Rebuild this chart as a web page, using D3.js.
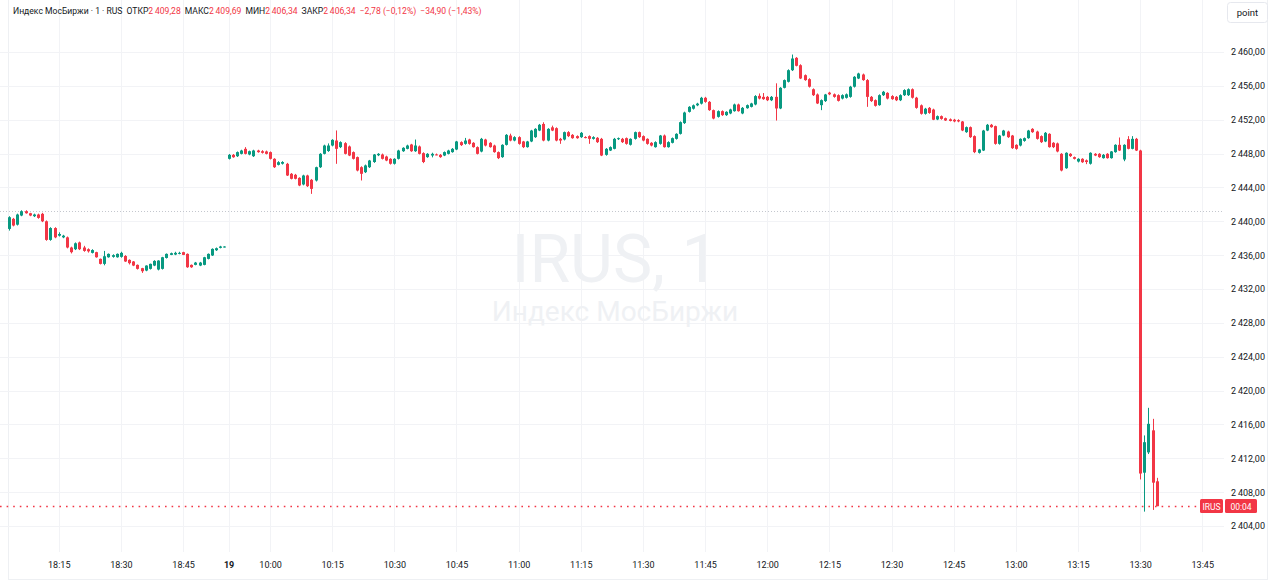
<!DOCTYPE html>
<html><head><meta charset="utf-8">
<script src="https://cdnjs.cloudflare.com/ajax/libs/d3/7.8.5/d3.min.js"></script>
<style>
html,body{margin:0;padding:0;background:#fff;}
svg{display:block;font-family:Roboto,"Noto Sans",sans-serif;}
</style></head><body>
<svg id="chart" width="1280" height="584"></svg>
<script>
// ---------- DATA ----------
const symbolName = "Индекс МосБиржи";
const ticker = "IRUS";
const interval = "1";
const exchange = "RUS";
const countdown = "00:04";
const prevDayClose = 2441.24;
const prevSessionStart = "18:03";
const todaySessionStart = "09:50";
const dayLabel = "19";

// previous day 1-minute bars [open, high, low, close]
const prevDayBars = [
[2439.10,2440.60,2438.90,2440.48],[2440.29,2440.40,2439.40,2439.50],[2439.60,2440.90,2439.50,2440.80],
[2440.68,2441.30,2440.60,2441.19],[2441.19,2441.30,2440.90,2440.95],[2440.95,2441.00,2440.60,2440.68],
[2440.60,2440.90,2440.50,2440.80],[2440.80,2440.90,2440.30,2440.40],[2440.88,2441.00,2439.90,2440.00],
[2440.00,2440.10,2437.70,2437.80],[2437.80,2439.30,2437.70,2439.20],[2439.20,2439.30,2438.00,2438.10],
[2438.30,2438.70,2438.20,2438.50],[2438.10,2438.40,2438.00,2438.30],[2438.10,2438.20,2436.80,2436.90],
[2436.90,2437.00,2436.20,2436.35],[2436.70,2437.50,2436.60,2437.40],[2437.50,2437.60,2436.60,2436.70],
[2436.90,2437.10,2436.40,2436.50],[2436.70,2436.80,2436.30,2436.45],[2436.27,2436.70,2436.20,2436.60],
[2436.35,2436.40,2435.70,2435.75],[2435.56,2435.60,2434.90,2434.97],[2434.97,2436.50,2434.80,2435.87],
[2435.75,2436.20,2435.70,2436.15],[2435.80,2436.10,2435.70,2436.00],[2435.75,2436.20,2435.70,2436.15],
[2435.80,2436.40,2435.70,2436.27],[2435.90,2436.00,2435.20,2435.25],[2435.44,2435.50,2434.90,2435.05],
[2435.25,2435.30,2434.70,2434.77],[2434.85,2434.90,2434.30,2434.38],[2434.46,2434.50,2433.90,2434.10],
[2434.18,2434.80,2434.10,2434.77],[2434.38,2435.00,2434.30,2434.97],[2434.77,2435.40,2434.70,2435.32],
[2434.30,2435.40,2434.20,2435.36],[2434.38,2435.80,2434.30,2435.75],[2435.67,2436.20,2435.60,2436.15],
[2436.03,2436.30,2436.00,2436.23],[2436.07,2436.40,2436.00,2436.27],[2436.15,2436.40,2436.10,2436.27],
[2436.35,2436.40,2436.00,2436.03],[2436.15,2436.20,2434.50,2434.57],[2434.85,2434.90,2434.50,2434.57],
[2434.85,2435.20,2434.80,2435.12],[2434.77,2435.20,2434.70,2435.12],[2434.85,2435.80,2434.80,2435.75],
[2435.56,2436.20,2435.50,2436.15],[2435.96,2436.80,2435.90,2436.74],[2436.58,2436.90,2436.50,2436.82],
[2436.86,2437.10,2436.80,2437.02],[2436.94,2437.05,2436.90,2437.02]
];

// today 1-minute bars [open, high, low, close]
const todayBars = [
[2447.38,2447.95,2447.30,2447.85],[2447.85,2447.95,2447.50,2447.57],[2447.69,2448.25,2447.60,2448.17],
[2447.97,2448.45,2447.90,2448.36],[2448.56,2448.76,2447.90,2447.97],[2447.89,2448.35,2447.80,2448.28],
[2447.69,2448.45,2447.60,2448.36],[2448.36,2448.45,2448.10,2448.17],[2448.28,2448.40,2448.00,2448.09],
[2448.25,2448.35,2447.90,2447.97],[2448.17,2448.25,2447.30,2447.38],[2447.38,2447.45,2446.30,2446.39],
[2446.67,2447.10,2446.60,2446.98],[2446.80,2447.10,2446.70,2447.00],[2446.79,2446.90,2445.35,2445.41],
[2445.61,2445.70,2444.95,2445.02],[2445.49,2445.60,2444.95,2445.02],[2445.13,2445.20,2444.15,2444.23],
[2444.35,2445.50,2444.25,2445.41],[2445.41,2445.50,2444.05,2444.15],[2444.90,2445.00,2443.24,2443.83],
[2444.82,2446.45,2444.70,2446.39],[2446.39,2448.05,2446.30,2447.97],[2447.97,2449.05,2447.90,2448.95],
[2448.30,2449.20,2448.20,2448.95],[2448.95,2449.70,2448.85,2449.62],[2449.54,2450.73,2446.79,2448.56],
[2448.76,2449.45,2448.65,2449.35],[2449.23,2449.35,2447.90,2447.97],[2448.84,2448.95,2447.70,2447.77],
[2448.17,2448.25,2447.30,2447.38],[2447.58,2447.65,2445.90,2446.00],[2446.39,2446.50,2444.82,2445.61],
[2445.80,2446.70,2445.70,2446.60],[2446.39,2447.25,2446.30,2447.18],[2447.00,2447.95,2446.90,2447.89],
[2447.80,2448.05,2447.70,2447.97],[2447.89,2448.00,2447.30,2447.38],[2447.65,2447.75,2447.10,2447.18],
[2447.38,2447.45,2446.70,2446.80],[2446.80,2447.45,2446.70,2447.38],[2447.38,2448.45,2447.30,2448.36],
[2448.28,2448.75,2448.20,2448.68],[2448.56,2449.05,2448.50,2448.95],[2449.07,2449.15,2448.20,2448.28],
[2448.28,2449.66,2448.20,2448.95],[2448.84,2448.95,2447.90,2447.97],[2448.05,2448.15,2446.87,2447.00],
[2447.58,2448.05,2447.50,2447.97],[2447.77,2448.10,2447.55,2447.97],[2447.90,2448.00,2447.80,2447.85],
[2447.85,2447.95,2447.50,2447.58],[2447.77,2448.25,2447.70,2448.17],[2447.97,2448.45,2447.90,2448.36],
[2448.17,2448.65,2448.10,2448.56],[2448.48,2449.50,2448.40,2449.43],[2449.35,2449.45,2448.90,2449.00],
[2449.15,2449.85,2449.05,2449.54],[2449.66,2449.75,2449.05,2449.15],[2449.27,2449.35,2448.70,2448.76],
[2448.76,2448.85,2447.90,2447.97],[2448.24,2449.85,2448.15,2449.74],[2449.66,2449.75,2448.85,2448.95],
[2449.27,2449.35,2448.70,2448.76],[2448.95,2449.05,2448.10,2448.17],[2448.17,2448.25,2447.35,2447.46],
[2447.58,2449.10,2447.50,2449.03],[2449.03,2450.30,2448.95,2450.21],[2450.13,2450.35,2449.45,2449.54],
[2449.54,2450.05,2449.45,2449.94],[2449.94,2450.05,2449.05,2449.15],[2449.43,2449.50,2448.65,2448.76],
[2448.76,2449.50,2448.70,2449.43],[2449.43,2450.80,2449.35,2450.72],[2449.94,2451.00,2449.85,2450.92],
[2450.72,2451.50,2450.65,2451.40],[2451.50,2451.70,2449.45,2449.54],[2449.54,2451.00,2449.45,2450.92],
[2451.10,2451.30,2450.65,2450.72],[2451.00,2451.10,2449.45,2449.54],[2449.74,2449.85,2449.15,2449.54],
[2449.66,2450.60,2449.55,2450.53],[2450.53,2450.65,2449.95,2450.06],[2450.21,2450.30,2449.75,2449.82],
[2450.06,2450.15,2449.75,2449.82],[2449.94,2450.55,2449.85,2450.45],[2449.95,2450.05,2449.80,2449.90],
[2450.06,2450.15,2449.15,2449.74],[2449.74,2450.05,2449.65,2449.94],[2449.86,2449.95,2449.25,2449.35],
[2449.74,2449.85,2447.70,2447.77],[2447.85,2448.65,2447.75,2448.56],[2448.36,2448.85,2448.30,2448.76],
[2448.56,2449.85,2448.50,2449.74],[2449.70,2449.90,2449.60,2449.82],[2449.74,2449.85,2449.25,2449.35],
[2449.82,2449.90,2449.05,2449.15],[2449.04,2449.80,2448.95,2449.74],[2449.74,2450.60,2449.65,2450.53],
[2450.53,2450.60,2449.85,2449.94],[2450.06,2450.15,2449.45,2449.54],[2449.74,2449.80,2449.05,2449.15],
[2449.27,2449.35,2448.85,2448.95],[2448.76,2449.45,2448.70,2449.35],[2449.15,2450.20,2449.05,2450.13],
[2450.13,2450.25,2448.70,2448.76],[2448.76,2449.45,2448.70,2449.35],[2449.27,2449.90,2449.20,2449.82],
[2449.74,2450.40,2449.65,2450.33],[2450.33,2451.80,2450.25,2451.71],[2451.60,2452.95,2451.50,2452.85],
[2452.93,2453.60,2452.85,2453.52],[2453.30,2453.80,2453.20,2453.70],[2453.70,2454.00,2453.60,2453.90],
[2453.90,2454.70,2453.80,2454.59],[2454.59,2454.70,2454.00,2454.11],[2454.11,2454.20,2453.05,2453.13],
[2453.13,2453.20,2452.05,2452.14],[2452.34,2453.10,2452.25,2453.01],[2453.01,2453.10,2452.45,2452.54],
[2452.54,2453.00,2452.45,2452.93],[2452.74,2453.30,2452.65,2453.21],[2453.01,2453.90,2452.95,2453.80],
[2453.80,2453.90,2452.95,2453.01],[2452.74,2453.50,2452.65,2453.40],[2453.36,2453.80,2453.30,2453.72],
[2453.52,2454.00,2453.45,2453.92],[2453.80,2454.90,2453.70,2454.79],[2454.82,2455.10,2454.40,2454.50],
[2454.70,2455.15,2454.35,2454.43],[2454.70,2454.80,2454.20,2454.30],[2454.30,2454.80,2454.20,2454.70],
[2454.70,2456.30,2451.90,2453.33],[2453.33,2455.85,2453.25,2455.77],[2455.77,2456.75,2455.70,2456.68],
[2456.48,2457.95,2456.40,2457.85],[2457.85,2459.70,2457.75,2459.23],[2459.31,2459.40,2458.30,2458.37],
[2458.44,2458.55,2456.80,2456.87],[2457.26,2457.35,2456.60,2456.68],[2456.79,2456.90,2455.80,2455.90],
[2455.60,2455.70,2454.80,2454.90],[2454.98,2455.10,2453.85,2453.92],[2453.72,2454.40,2453.13,2454.31],
[2454.20,2455.05,2454.10,2454.98],[2455.20,2455.30,2454.90,2455.00],[2455.00,2455.10,2454.60,2454.70],
[2454.90,2455.00,2454.15,2454.23],[2454.50,2455.00,2454.40,2454.90],[2454.59,2455.10,2454.50,2455.00],
[2454.70,2456.00,2454.60,2455.90],[2455.90,2457.15,2455.80,2457.07],[2456.87,2457.55,2456.80,2457.46],
[2457.34,2457.45,2456.60,2456.68],[2456.68,2456.80,2453.52,2454.70],[2454.70,2454.80,2454.10,2454.20],
[2454.31,2454.40,2453.55,2453.64],[2453.72,2455.00,2453.65,2454.90],[2454.90,2455.40,2454.80,2455.30],
[2455.17,2455.25,2454.40,2454.50],[2454.79,2454.90,2454.35,2454.43],[2454.70,2454.80,2454.20,2454.30],
[2454.30,2455.00,2454.20,2454.90],[2454.90,2455.60,2454.80,2455.50],[2454.90,2455.70,2454.80,2455.60],
[2455.60,2455.70,2454.50,2454.60],[2454.60,2454.70,2453.30,2453.40],[2453.70,2453.80,2452.60,2452.70],
[2452.70,2453.40,2452.60,2453.30],[2453.40,2453.50,2452.70,2452.80],[2453.20,2453.30,2451.95,2452.00],
[2452.03,2452.50,2451.95,2452.42],[2452.42,2452.50,2452.00,2452.10],[2452.18,2452.25,2451.85,2451.91],
[2452.05,2452.15,2451.80,2451.85],[2452.00,2452.10,2451.70,2451.80],[2451.95,2452.05,2451.70,2451.80],
[2451.79,2451.85,2450.65,2450.73],[2450.53,2451.20,2450.45,2451.12],[2451.12,2451.20,2449.85,2449.94],
[2450.06,2450.15,2448.05,2448.17],[2448.09,2448.55,2448.00,2448.48],[2448.36,2450.80,2448.30,2450.72],
[2450.72,2451.50,2450.65,2451.40],[2451.40,2451.50,2451.05,2451.12],[2451.24,2451.30,2449.05,2449.15],
[2449.15,2450.20,2449.05,2450.13],[2450.13,2450.80,2450.05,2450.72],[2450.60,2450.70,2449.85,2449.94],
[2450.13,2450.20,2448.55,2448.64],[2449.03,2449.10,2448.45,2448.56],[2448.95,2449.80,2448.85,2449.74],
[2449.50,2449.90,2449.40,2449.82],[2449.82,2450.80,2449.75,2450.72],[2450.92,2451.00,2450.45,2450.53],
[2450.60,2450.70,2449.65,2449.74],[2450.06,2450.15,2449.25,2449.35],[2449.43,2450.55,2449.35,2450.45],
[2450.33,2450.40,2448.70,2448.76],[2449.27,2449.35,2448.65,2448.76],[2449.20,2449.30,2448.15,2448.25],
[2447.97,2448.05,2445.90,2446.00],[2446.27,2448.15,2446.20,2448.09],[2447.97,2448.05,2447.60,2447.70],
[2447.58,2447.65,2447.30,2447.38],[2447.06,2447.45,2446.95,2447.38],[2447.38,2447.45,2446.90,2446.98],
[2447.20,2447.30,2446.75,2447.00],[2446.80,2448.15,2446.70,2448.09],[2447.97,2448.05,2447.70,2447.77],
[2447.97,2448.05,2447.50,2447.58],[2447.46,2447.95,2447.40,2447.85],[2447.97,2448.05,2447.40,2447.46],
[2447.46,2448.30,2447.40,2448.25],[2448.17,2449.10,2448.10,2449.03],[2449.03,2449.90,2448.30,2448.36],
[2447.30,2449.10,2447.10,2449.03],[2449.70,2450.06,2448.50,2448.56],[2448.56,2450.06,2448.50,2449.74],
[2449.74,2449.85,2448.30,2448.36],[2448.36,2448.45,2409.50,2410.20],[2410.30,2414.70,2405.70,2413.90],
[2412.70,2417.96,2412.50,2416.07],[2415.30,2416.66,2405.90,2409.12],[2409.28,2409.69,2406.34,2406.34]
];

const priceTicks = [2404,2408,2412,2416,2420,2424,2428,2432,2436,2440,2444,2448,2452,2456,2460];
const prevDayTickTimes = ["18:15","18:30","18:45"];
const todayTickTimes = ["09:50","10:00","10:15","10:30","10:45","11:00","11:15","11:30","11:45","12:00","12:15","12:30","12:45","13:00","13:15","13:30","13:45"];

// ---------- LAYOUT ----------
const plotRight = 1224;
const UP = "#089981", DOWN = "#f23645", TEXT = "#131722", GRID = "#f2f3f6";

const svg = d3.select("#chart");
const loc = d3.formatLocale({decimal: ",", thousands: "\u2009", grouping: [3], currency: ["", ""], minus: "\u2212"});
const fmtPrice = loc.format(",.2f");
const fmtPct = loc.format(".2f");

const toMin = t => { const [h, m] = t.split(":").map(Number); return h * 60 + m; };
const nPrev = prevDayBars.length;
const bars = prevDayBars.map((b, i) => ({p: i, o: b[0], h: b[1], l: b[2], c: b[3]}))
  .concat(todayBars.map((b, i) => ({p: nPrev + i, o: b[0], h: b[1], l: b[2], c: b[3]})));

const x = d3.scaleLinear().domain([-2.18, nPrev + 240.25]).range([0, plotRight]);
const y = d3.scaleLinear().domain([2404, 2460]).range([526, 52]);

const tickPos = prevDayTickTimes.map(t => toMin(t) - toMin(prevSessionStart))
  .concat(todayTickTimes.map(t => nPrev + toMin(t) - toMin(todaySessionStart)));
const tickText = prevDayTickTimes.concat(todayTickTimes.map(t => t === todaySessionStart ? dayLabel : t));

// frame
svg.append("rect").attr("x", 8.5).attr("y", -1).attr("width", 1259).attr("height", 580.5)
  .attr("fill", "none").attr("stroke", "#eef0f3");

// grid
const grid = svg.append("g");
grid.selectAll(".gv").data(tickPos).join("line")
  .attr("x1", d => Math.round(x(d)) + 0.5).attr("x2", d => Math.round(x(d)) + 0.5)
  .attr("y1", 0).attr("y2", 552).attr("stroke", GRID);
grid.selectAll(".gh").data(priceTicks).join("line")
  .attr("x1", 0).attr("x2", plotRight)
  .attr("y1", d => Math.round(y(d)) + 0.5).attr("y2", d => Math.round(y(d)) + 0.5).attr("stroke", GRID);

// watermark
svg.append("text").attr("x", 615).attr("y", 282).attr("text-anchor", "middle")
  .attr("font-size", 66).attr("fill", "#eff1f4").text(ticker + ", " + interval);
svg.append("text").attr("x", 615).attr("y", 321).attr("text-anchor", "middle")
  .attr("font-size", 28).attr("fill", "#eff1f4").text(symbolName);

// previous close line
svg.append("line").attr("x1", 0).attr("x2", plotRight)
  .attr("y1", Math.round(y(prevDayClose)) + 0.5).attr("y2", Math.round(y(prevDayClose)) + 0.5)
  .attr("stroke", "#c4c7ce").attr("stroke-dasharray", "1,2");

// candles
const last = bars[bars.length - 1];
const cg = svg.append("g");
const col = d => d.c >= d.o ? UP : DOWN;
cg.selectAll(".w").data(bars).join("line")
  .attr("x1", d => Math.round(x(d.p)) + 0.5).attr("x2", d => Math.round(x(d.p)) + 0.5)
  .attr("y1", d => y(d.h)).attr("y2", d => y(d.l)).attr("stroke", col).attr("stroke-width", 1);
cg.selectAll(".b").data(bars).join("rect")
  .attr("x", d => Math.round(x(d.p)) - 1).attr("width", 3)
  .attr("y", d => y(Math.max(d.o, d.c)))
  .attr("height", d => Math.max(1, Math.abs(y(d.o) - y(d.c))))
  .attr("fill", col);

// last price line
const ly = Math.round(y(last.c)) + 0.5;
svg.append("line").attr("x1", 0).attr("x2", 1200).attr("y1", ly).attr("y2", ly)
  .attr("stroke", DOWN).attr("stroke-width", 1.6).attr("stroke-dasharray", "1.6,5");

// price axis
const ya = svg.append("g").attr("transform", `translate(${plotRight + 7},0)`)
  .call(d3.axisRight(y).tickValues(priceTicks).tickFormat(fmtPrice).tickSize(0).tickPadding(0));
ya.select(".domain").remove();
ya.selectAll("text").attr("font-size", 9).attr("fill", TEXT).attr("font-family", "Roboto,sans-serif");

// time axis
const xa = svg.append("g").attr("transform", "translate(0,562)")
  .call(d3.axisBottom(x).tickValues(tickPos).tickFormat((d, i) => tickText[i]).tickSize(0).tickPadding(0));
xa.select(".domain").remove();
xa.selectAll("text").attr("font-size", 9).attr("fill", TEXT).attr("font-family", "Roboto,sans-serif")
  .attr("font-weight", (d, i) => tickText[i] === dayLabel ? "bold" : "normal");

// last price labels
const lbl = svg.append("g");
lbl.append("rect").attr("x", 1200).attr("y", ly - 7.5).attr("width", 23).attr("height", 14).attr("rx", 1.5).attr("fill", DOWN);
lbl.append("text").attr("x", 1211.5).attr("y", ly + 3).attr("text-anchor", "middle").attr("font-size", 8.5)
  .attr("fill", "#fff").text(ticker);
lbl.append("rect").attr("x", 1225).attr("y", ly - 7.5).attr("width", 32).attr("height", 14).attr("rx", 1.5).attr("fill", DOWN);
lbl.append("text").attr("x", 1241).attr("y", ly + 3).attr("text-anchor", "middle").attr("font-size", 8.5)
  .attr("fill", "#fff").text(countdown);

// "point" button
svg.append("rect").attr("x", 1227.5).attr("y", 2.5).attr("width", 40).attr("height", 20).attr("rx", 3)
  .attr("fill", "#fff").attr("stroke", "#e6e8ee");
svg.append("text").attr("x", 1247.5).attr("y", 16).attr("text-anchor", "middle").attr("font-size", 9.5)
  .attr("fill", TEXT).text("point");

// header legend
const prev = bars[bars.length - 2];
const ch = last.c - prev.c, chPct = ch / prev.c * 100;
const dch = last.c - prevDayClose, dchPct = dch / prevDayClose * 100;
const hdr = svg.append("text").attr("x", 13).attr("y", 14).attr("font-size", 8.6);
const seg = (t, c, dx) => hdr.append("tspan").attr("fill", c).attr("dx", dx || 0).text(t);
seg(`${symbolName} · ${interval} · ${exchange}`, TEXT);
seg("ОТКР", TEXT, 4); seg(fmtPrice(last.o), DOWN);
seg("МАКС", TEXT, 4); seg(fmtPrice(last.h), DOWN);
seg("МИН", TEXT, 4); seg(fmtPrice(last.l), DOWN);
seg("ЗАКР", TEXT, 4); seg(fmtPrice(last.c), DOWN);
seg(`${fmtPrice(ch)} (${fmtPct(chPct)}%)`, DOWN, 4);
seg(`${fmtPrice(dch)} (${fmtPct(dchPct)}%)`, DOWN, 4);
</script>
</body></html>
